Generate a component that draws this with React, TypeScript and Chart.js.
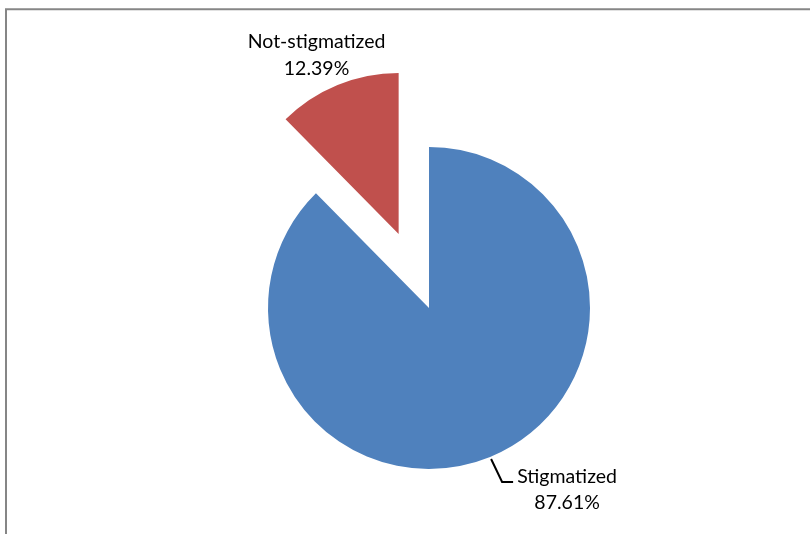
import React, { useEffect, useRef } from "react";
import { Chart, registerables } from "chart.js";

Chart.register(...registerables);

const categories = ["Stigmatized", "Not-stigmatized"];
const values = [87.61, 12.39];
const valueLabels = ["87.61%", "12.39%"];
const colors = ["#4F81BD", "#C0504D"];
const explode = [0, 80];

const FONT = "19.5px Lato, 'Open Sans', sans-serif";

const explodePlugin = {
  id: "explode",
  afterDatasetsUpdate(chart: any) {
    const meta = chart.getDatasetMeta(0);
    meta.data.forEach((el: any, i: number) => {
      const d = explode[i] || 0;
      if (!d) return;
      const mid = (el.startAngle + el.endAngle) / 2;
      el.x += Math.cos(mid) * d;
      el.y += Math.sin(mid) * d;
    });
  },
};

const framePlugin = {
  id: "frame",
  beforeDraw(chart: any) {
    const ctx = chart.ctx;
    ctx.save();
    ctx.fillStyle = "#fff";
    ctx.fillRect(0, 0, chart.width, chart.height);
    ctx.strokeStyle = "#868686";
    ctx.lineWidth = 2;
    ctx.beginPath();
    ctx.moveTo(6, chart.height + 2);
    ctx.lineTo(6, 9.3);
    ctx.lineTo(chart.width + 2, 9.3);
    ctx.stroke();
    ctx.restore();
  },
};

const labelPlugin = {
  id: "sliceLabels",
  afterDatasetsDraw(chart: any) {
    const ctx = chart.ctx;
    const meta = chart.getDatasetMeta(0);
    ctx.save();
    ctx.font = FONT;
    ctx.fillStyle = "#000";
    ctx.textBaseline = "middle";
    meta.data.forEach((el: any, i: number) => {
      const mid = (el.startAngle + el.endAngle) / 2;
      const ax = el.x + Math.cos(mid) * el.outerRadius;
      const ay = el.y + Math.sin(mid) * el.outerRadius;
      if (i === 0) {
        const ex = ax + 12;
        const ey = ay + 25;
        const fx = ex + 11;
        ctx.strokeStyle = "#000";
        ctx.lineWidth = 2;
        ctx.beginPath();
        ctx.moveTo(ax + 1, ay + 2);
        ctx.lineTo(ex, ey);
        ctx.lineTo(fx, ey);
        ctx.stroke();
        ctx.textAlign = "center";
        const cx = fx + 54;
        ctx.fillText(categories[i], cx, ey - 5);
        ctx.fillText(valueLabels[i], cx, ey + 21);
      } else {
        ctx.textAlign = "center";
        const cx = ax - 21;
        ctx.fillText(categories[i], cx, ay - 43);
        ctx.fillText(valueLabels[i], cx, ay - 16);
      }
    });
    ctx.restore();
  },
};

export default function App() {
  const ref = useRef<HTMLCanvasElement | null>(null);
  useEffect(() => {
    if (!ref.current) return;
    const chart = new Chart(ref.current, {
      type: "pie",
      data: {
        labels: categories,
        datasets: [
          {
            data: values,
            backgroundColor: colors,
            borderWidth: 0,
          },
        ],
      },
      options: {
        animation: false,
        responsive: false,
        radius: 161,
        layout: { padding: { left: 100, right: 52, top: 120, bottom: 38 } },
        plugins: {
          legend: { display: false },
          tooltip: { enabled: false },
        },
      } as any,
      plugins: [framePlugin, explodePlugin, labelPlugin],
    });
    return () => chart.destroy();
  }, []);
  return (
    <div style={{ position: "absolute", left: 0, top: 0, width: 810, height: 534, overflow: "hidden" }}>
      <canvas ref={ref} width={810} height={534} style={{ display: "block" }} />
    </div>
  );
}
